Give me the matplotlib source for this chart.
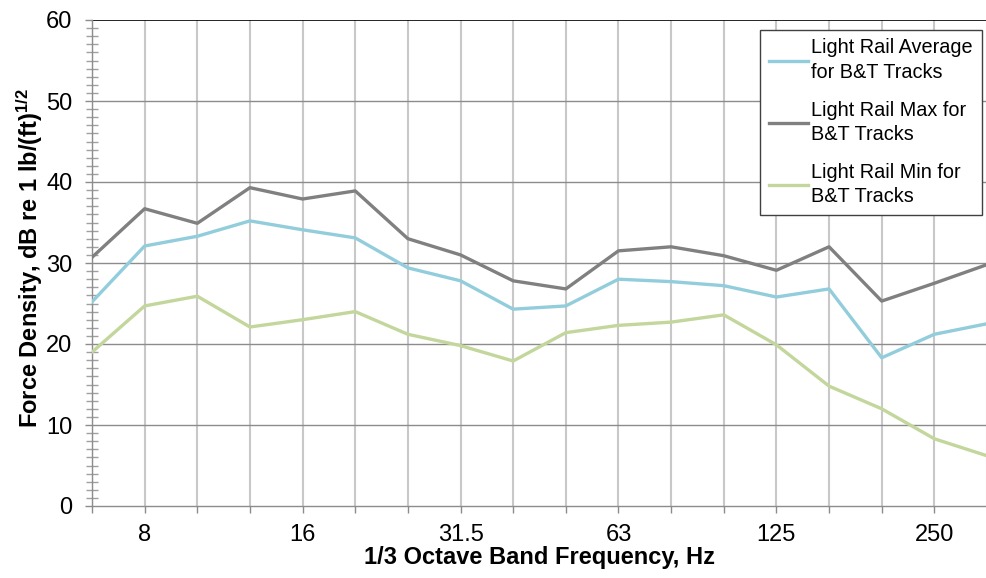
import matplotlib
matplotlib.use("Agg")
import matplotlib.pyplot as plt
from matplotlib.ticker import MultipleLocator

plt.rcParams['font.family'] = ['Liberation Sans', 'DejaVu Sans']
plt.rcParams['mathtext.fontset'] = 'custom'
plt.rcParams['mathtext.rm'] = 'Liberation Sans'
plt.rcParams['mathtext.it'] = 'Liberation Sans:italic'
plt.rcParams['mathtext.bf'] = 'Liberation Sans:bold'

freqs = ["6.3", "8", "10", "12.5", "16", "20", "25", "31.5", "40", "50",
         "63", "80", "100", "125", "160", "200", "250", "315"]
shown_labels = ["8", "16", "31.5", "63", "125", "250"]

avg_vals = [25.2, 32.1, 33.3, 35.2, 34.1, 33.1, 29.4, 27.8, 24.3, 24.7,
            28.0, 27.7, 27.2, 25.8, 26.8, 18.3, 21.2, 22.5]
max_vals = [30.7, 36.7, 34.9, 39.3, 37.9, 38.9, 33.0, 31.0, 27.8, 26.8,
            31.5, 32.0, 30.9, 29.1, 32.0, 25.3, 27.5, 29.8]
min_vals = [19.0, 24.7, 25.9, 22.1, 23.0, 24.0, 21.2, 19.8, 17.9, 21.4,
            22.3, 22.7, 23.6, 19.9, 14.8, 12.0, 8.3, 6.2]

series_names = ["Light Rail Average\nfor B&T Tracks",
                "Light Rail Max for\nB&T Tracks",
                "Light Rail Min for\nB&T Tracks"]
colors = ["#92CDDC", "#808080", "#C3D69B"]

W, H = 987, 578
fig = plt.figure(figsize=(W / 100, H / 100), dpi=100)
ax = fig.add_axes([92 / W, (H - 506) / H, (W - 92) / W, (506 - 20) / H])

x = list(range(len(freqs)))
ax.set_xlim(0, len(freqs) - 1)
ax.set_ylim(0, 60)

# grid
for xi in x:
    ax.axvline(xi, color="#C8C8C8", lw=1.5, zorder=0)
for yv in range(10, 60, 10):
    ax.axhline(yv, color="#8C8C8C", lw=1.0, zorder=0)
ax.axhline(60, color="black", lw=1.2, zorder=1)

for vals, name, c in zip([avg_vals, max_vals, min_vals], series_names, colors):
    ax.plot(x, vals, color=c, lw=2.4, label=name, zorder=3)

# ticks
ax.set_xticks(x)
ax.set_xticklabels([f if f in shown_labels else "" for f in freqs], fontsize=17)
ax.yaxis.set_major_locator(MultipleLocator(10))
ax.yaxis.set_minor_locator(MultipleLocator(1))
ax.tick_params(axis="y", which="major", direction="out", length=5, width=1,
               color="#8C8C8C", labelsize=17, pad=9)
ax.tick_params(axis="y", which="minor", direction="inout", length=8, width=1,
               color="#A0A0A0")
ax.tick_params(axis="x", which="major", direction="out", length=5, width=1,
               color="#8C8C8C", labelsize=17, pad=8)

for s in ["top", "right"]:
    ax.spines[s].set_visible(False)
for s in ["left", "bottom"]:
    ax.spines[s].set_color("#8C8C8C")
    ax.spines[s].set_linewidth(1.0)

ax.set_ylabel("Force Density, dB re 1 lb/(ft)$^{\\mathregular{1/2}}$", fontsize=17,
              fontweight="bold")
ax.yaxis.set_label_coords(-47 / (W - 92), 0.5 + 5 / (506 - 20))
ax.set_xlabel("1/3 Octave Band Frequency, Hz", fontsize=17,
              fontweight="bold", labelpad=0)

leg = ax.legend(loc="upper right", bbox_to_anchor=(982 / W, (H - 29.5) / H),
                bbox_transform=fig.transFigure, fontsize=14.3, frameon=True,
                fancybox=False, handlelength=2.0, handletextpad=0.15,
                labelspacing=0.95, borderpad=0.45, borderaxespad=0)
for t in leg.get_texts():
    t.set_linespacing(1.35)
leg.get_frame().set_edgecolor("#404040")
leg.get_frame().set_linewidth(1.0)
leg.get_frame().set_alpha(1.0)

fig.savefig("out.png", dpi=100)
